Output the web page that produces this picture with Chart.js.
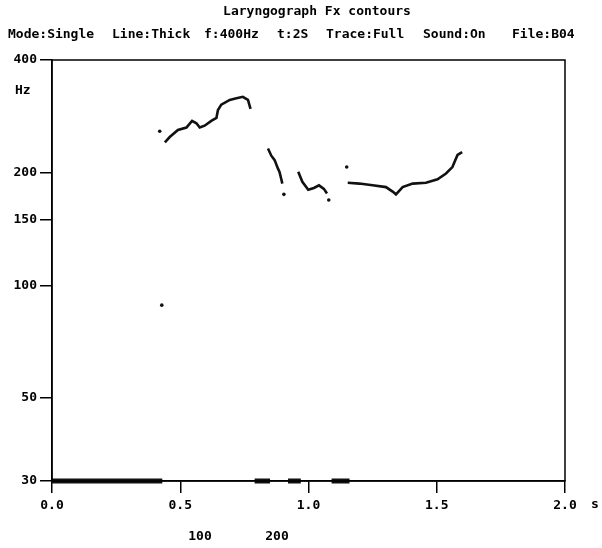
<!DOCTYPE html>
<html>
<head>
<meta charset="utf-8">
<script src="https://cdn.jsdelivr.net/npm/chart.js@4"></script>
<style>body{margin:0;background:#fff}</style>
</head>
<body>
<canvas id="fxchart" width="602" height="548"></canvas>
<script>
// contour pieces (time in s, Fx in Hz)
var seg1Time = [0.440, 0.459, 0.491, 0.524, 0.546, 0.563, 0.576, 0.595, 0.621, 0.641, 0.647, 0.660, 0.693, 0.719, 0.744, 0.764, 0.774];
var seg1Hz   = [241, 249, 260, 264, 275, 271, 264, 267, 275, 280, 294, 304, 313, 316, 319, 313, 296];
var seg2Time = [0.842, 0.855, 0.868, 0.881, 0.887, 0.894, 0.898];
var seg2Hz   = [232, 222, 216, 205, 201, 192, 187];
var seg3Time = [0.960, 0.976, 0.999, 1.021, 1.041, 1.060, 1.072];
var seg3Hz   = [201, 189, 180, 182, 185, 181, 176];
var seg4Time = [1.153, 1.198, 1.250, 1.302, 1.328, 1.341, 1.367, 1.406, 1.458, 1.503, 1.536, 1.561, 1.581, 1.599];
var seg4Hz   = [188, 187, 185, 183, 178, 175, 183, 187, 188, 192, 199, 207, 223, 227];
var dotTime  = [0.420, 0.428, 0.904, 1.079, 1.149];
var dotHz    = [258, 88.5, 175, 169, 207];
// voiced stretches marked along the floor
var voicedStart = [0.00, 0.79, 0.92, 1.09];
var voicedEnd   = [0.43, 0.85, 0.97, 1.16];
var yTicks = [30, 50, 100, 150, 200, 400];
var headerFields = ['Mode:Single', 'Line:Thick', 'f:400Hz', 't:2S', 'Trace:Full', 'Sound:On', 'File:B04'];
var headerX = [8, 112, 204, 277, 326, 423, 512];

var FONTNAME = '"DejaVu Sans Mono", "Liberation Mono", monospace';

function pts(ts, hs) {
    var out = [];
    for (var i = 0; i < ts.length; i++) out.push({x: ts[i], y: hs[i]});
    return out;
}

var floorPts = [];
for (var i = 0; i < voicedStart.length; i++) {
    floorPts.push({x: voicedStart[i], y: 30});
    floorPts.push({x: voicedEnd[i], y: 30});
    floorPts.push({x: voicedEnd[i], y: NaN});
}

function lineSet(data) {
    return {type: 'line', data: data, borderColor: '#111', borderWidth: 2.6,
            pointRadius: 0, fill: false, tension: 0, showLine: true};
}

var textPlugin = {
    id: 'texts',
    afterDraw: function(chart) {
        var c = chart.ctx, a = chart.chartArea;
        c.save();
        c.strokeStyle = '#000';
        c.lineWidth = 1.5;
        c.strokeRect(a.left, a.top, a.right - a.left, a.bottom - a.top);
        c.fillStyle = '#000';
        c.font = 'bold 13px ' + FONTNAME;
        c.textBaseline = 'middle';
        c.textAlign = 'center';
        c.fillText('Laryngograph Fx contours', 317, 12);
        c.textAlign = 'left';
        for (var i = 0; i < headerFields.length; i++) c.fillText(headerFields[i], headerX[i], 35);
        c.fillText('Hz', 15, 91);
        c.fillText('s', 591, 505);
        c.textAlign = 'center';
        c.fillText('100', 200, 537);
        c.fillText('200', 277, 537);
        c.restore();
    }
};

var fxChart = new Chart(document.getElementById('fxchart').getContext('2d'), {
    type: 'scatter',
    data: {
        datasets: [
            lineSet(pts(seg1Time, seg1Hz)),
            lineSet(pts(seg2Time, seg2Hz)),
            lineSet(pts(seg3Time, seg3Hz)),
            lineSet(pts(seg4Time, seg4Hz)),
            {data: pts(dotTime, dotHz), backgroundColor: '#111', borderWidth: 0, pointRadius: 1.8},
            {type: 'line', data: floorPts, borderColor: '#111', borderWidth: 5, pointRadius: 0,
             spanGaps: false, borderCapStyle: 'butt'}
        ]
    },
    options: {
        responsive: false,
        animation: false,
        clip: false,
        layout: {padding: {top: 60, right: 37, left: 0, bottom: 0}},
        plugins: {legend: {display: false}, tooltip: {enabled: false}},
        scales: {
            x: {
                type: 'linear', min: 0, max: 2,
                afterFit: function(s) { s.height = 67; },
                ticks: {stepSize: 0.5, color: '#000', padding: 5, maxRotation: 0,
                        font: {family: FONTNAME, size: 13, weight: 'bold'},
                        callback: function(v) { return v.toFixed(1); }},
                grid: {drawOnChartArea: false, drawTicks: true, tickLength: 12, color: '#000', lineWidth: 1.5},
                border: {display: true, color: '#000', width: 1.5}
            },
            y: {
                type: 'logarithmic', min: 30, max: 400,
                afterFit: function(s) { s.width = 52; },
                afterBuildTicks: function(s) { s.ticks = yTicks.map(function(v) { return {value: v}; }); },
                ticks: {color: '#000', padding: 3,
                        font: {family: FONTNAME, size: 13, weight: 'bold'},
                        callback: function(v) { return String(v); }},
                grid: {drawOnChartArea: false, drawTicks: true, tickLength: 12, color: '#000', lineWidth: 1.5},
                border: {display: true, color: '#000', width: 1.5}
            }
        }
    },
    plugins: [textPlugin]
});
</script>
</body>
</html>
